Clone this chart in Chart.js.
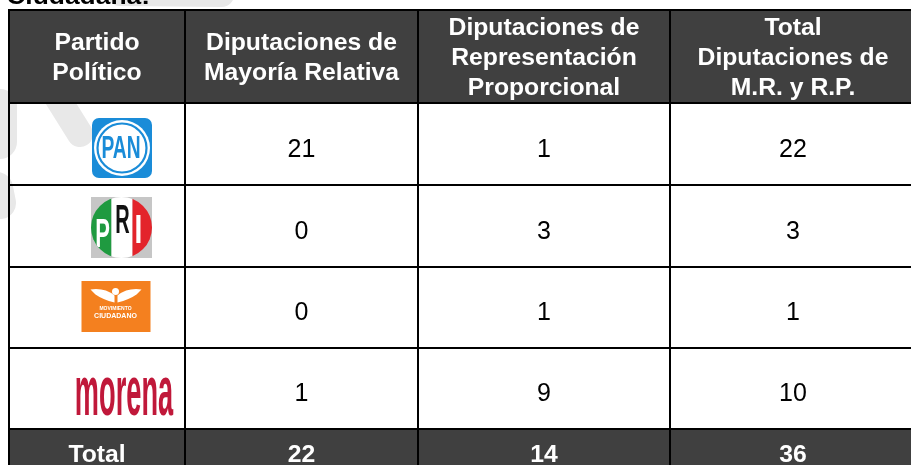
<!DOCTYPE html>
<html>
<head>
<meta charset="utf-8">
<script src="https://cdn.jsdelivr.net/npm/chart.js@4.4.0/dist/chart.umd.min.js"></script>
<style>
  html, body { margin: 0; padding: 0; background: #fff; }
  #wrap { width: 911px; height: 465px; }
</style>
</head>
<body>
<div id="wrap"><canvas id="tabla" width="911" height="465"></canvas></div>
<script>
// header text, one entry per column (lines)
const headers = [
  ['Partido', 'Político'],
  ['Diputaciones de', 'Mayoría Relativa'],
  ['Diputaciones de', 'Representación', 'Proporcional'],
  ['Total', 'Diputaciones de', 'M.R. y R.P.']
];
const parties = ['PAN', 'PRI', 'MC', 'morena'];
const mayoriaRelativa = [21, 0, 0, 1];
const representacionProporcional = [1, 3, 1, 9];
const totalDiputaciones = [22, 3, 1, 10];
const totalLabel = 'Total';
const columnTotals = [22, 14, 36];

// table grid (page pixels)
const colEdges = [9, 185, 418, 670, 916];
const rowEdges = [10, 103, 185, 267, 348, 429, 477];
const HEAD_BG = '#404040';
const FONT = '"Liberation Sans", Arial, sans-serif';

function cx(j) { return (colEdges[j] + colEdges[j + 1]) / 2; }
function cy(i) { return (rowEdges[i] + rowEdges[i + 1]) / 2; }

function stretchText(ctx, str, x, y, font, color, sx, align) {
  ctx.save();
  ctx.font = font;
  ctx.fillStyle = color;
  ctx.textAlign = align || 'center';
  ctx.textBaseline = 'alphabetic';
  ctx.translate(x, y);
  ctx.scale(sx, 1);
  ctx.fillText(str, 0, 0);
  ctx.restore();
}

// party logos, drawn around a centre point
function drawLogo(ctx, name, x, y) {
  ctx.save();
  if (name === 'PAN') {
    ctx.fillStyle = '#1a8cd8';
    ctx.beginPath();
    ctx.roundRect(x - 30, y - 30, 60, 60, 7);
    ctx.fill();
    ctx.fillStyle = '#fff';
    ctx.beginPath(); ctx.arc(x, y, 28, 0, Math.PI * 2); ctx.fill();
    ctx.strokeStyle = '#1a8cd8'; ctx.lineWidth = 2.2;
    ctx.beginPath(); ctx.arc(x, y, 24.5, 0, Math.PI * 2); ctx.stroke();
    ctx.translate(x - 1, y + 10);
    ctx.scale(0.6, 1);
    ctx.font = 'bold 32px ' + FONT;
    ctx.fillStyle = '#1a8cd8';
    ctx.textAlign = 'center';
    ctx.fillText('PAN', 0, 0);
  } else if (name === 'PRI') {
    ctx.fillStyle = '#c6c6c6';
    ctx.fillRect(x - 30.5, y - 30.5, 61, 61);
    ctx.beginPath(); ctx.arc(x, y, 30.5, 0, Math.PI * 2); ctx.clip();
    ctx.fillStyle = '#1f9a40'; ctx.fillRect(x - 31, y - 31, 21, 62);
    ctx.fillStyle = '#ffffff'; ctx.fillRect(x - 10, y - 31, 21, 62);
    ctx.fillStyle = '#e3242b'; ctx.fillRect(x + 11, y - 31, 21, 62);
    ctx.font = 'bold 40px ' + FONT;
    ctx.textAlign = 'center';
    const letter = (ch, lx, ly, col, sx) => {
      ctx.save(); ctx.translate(lx, ly); ctx.scale(sx, 1);
      ctx.fillStyle = col; ctx.fillText(ch, 0, 0); ctx.restore();
    };
    letter('P', x - 19, y + 19, '#fff', 0.55);
    letter('R', x + 1, y + 5, '#111', 0.5);
    letter('I', x + 17, y + 15, '#fff', 0.7);
  } else if (name === 'MC') {
    ctx.fillStyle = '#f4801f';
    ctx.fillRect(x - 35, y - 25.5, 69, 51);
    ctx.fillStyle = '#fff';
    // wings
    ctx.beginPath();
    ctx.moveTo(x - 26, y - 17);
    ctx.quadraticCurveTo(x - 12, y - 19, x - 2, y - 11);
    ctx.lineTo(x - 2, y - 4);
    ctx.quadraticCurveTo(x - 14, y - 7, x - 21, y - 12);
    ctx.closePath();
    ctx.moveTo(x + 25, y - 17);
    ctx.quadraticCurveTo(x + 11, y - 19, x + 1, y - 11);
    ctx.lineTo(x + 1, y - 4);
    ctx.quadraticCurveTo(x + 13, y - 7, x + 20, y - 12);
    ctx.closePath();
    ctx.fill();
    ctx.beginPath(); ctx.arc(x - 1, y - 15, 3.5, 0, Math.PI * 2); ctx.fill();
    ctx.textAlign = 'center';
    ctx.font = 'bold 5px ' + FONT;
    ctx.fillText('MOVIMIENTO', x - 1, y + 3);
    ctx.font = 'bold 7px ' + FONT;
    ctx.fillText('CIUDADANO', x - 1, y + 11);
  } else if (name === 'morena') {
    ctx.translate(x, y + 18);
    ctx.scale(0.68, 1.78);
    ctx.font = 'bold 40px ' + FONT;
    ctx.fillStyle = '#c0183a';
    ctx.textAlign = 'center';
    ctx.fillText('morena', 0, 0);
  }
  ctx.restore();
}

const logoPos = [[122, 148], [121.5, 227.5], [116.5, 306.5], [124, 397]];

const tablePlugin = {
  id: 'tablePlugin',
  beforeDatasetsDraw(chart) {
    const ctx = chart.ctx;
    const xs = chart.scales.x, ys = chart.scales.y;
    const X = v => xs.getPixelForValue(v), Y = v => ys.getPixelForValue(v);
    ctx.save();
    // faint watermark strokes behind the table
    ctx.strokeStyle = '#e8e8e8';
    ctx.lineCap = 'round';
    [[[40, 70], [80, 134], 26], [[0, 106], [0, 142], 34], [[-3, 188], [0, 203], 32], [[120, -6], [222, -5], 24]]
      .forEach(([a, b, w]) => {
        ctx.lineWidth = w;
        ctx.beginPath(); ctx.moveTo(X(a[0]), Y(a[1])); ctx.lineTo(X(b[0]), Y(b[1])); ctx.stroke();
      });
    // cut-off title text above the table
    stretchText(ctx, 'Ciudadana:', X(150), Y(4), 'bold 24px ' + FONT, '#000', 1.1, 'right');

    // header and total row backgrounds
    const last = colEdges.length - 1;
    ctx.fillStyle = HEAD_BG;
    ctx.fillRect(X(colEdges[0]), Y(rowEdges[0]), X(colEdges[last]) - X(colEdges[0]), Y(rowEdges[1]) - Y(rowEdges[0]));
    const tr = rowEdges.length - 2;
    ctx.fillRect(X(colEdges[0]), Y(rowEdges[tr]), X(colEdges[last]) - X(colEdges[0]), Y(rowEdges[tr + 1]) - Y(rowEdges[tr]));

    // logos
    parties.forEach((p, i) => drawLogo(ctx, p, X(logoPos[i][0]), Y(logoPos[i][1])));

    // grid lines
    ctx.strokeStyle = '#000';
    ctx.lineWidth = 2;
    ctx.lineCap = 'butt';
    colEdges.forEach(c => {
      ctx.beginPath(); ctx.moveTo(X(c), Y(rowEdges[0]) - 1); ctx.lineTo(X(c), Y(rowEdges[rowEdges.length - 1])); ctx.stroke();
    });
    rowEdges.forEach(r => {
      ctx.beginPath(); ctx.moveTo(X(colEdges[0]) - 1, Y(r)); ctx.lineTo(X(colEdges[last]), Y(r)); ctx.stroke();
    });

    // header text
    headers.forEach((lines, j) => {
      const mid = cy(0);
      lines.forEach((t, k) => {
        const yc = mid + (k - (lines.length - 1) / 2) * 30;
        stretchText(ctx, t, X(cx(j)), Y(yc + 8.6), 'bold 24px ' + FONT, '#fff', 1.03);
      });
    });
    ctx.restore();
  },
  afterDatasetsDraw(chart) {
    const ctx = chart.ctx;
    chart.data.datasets.forEach((ds, d) => {
      const meta = chart.getDatasetMeta(d);
      meta.data.forEach((pt, i) => {
        const raw = ds.data[i];
        if (ds.isTotal) {
          stretchText(ctx, String(raw.v), pt.x, pt.y + 8.6, 'bold 24px ' + FONT, '#fff', 1.03);
        } else {
          stretchText(ctx, String(raw.v), pt.x, pt.y + 12.5, '25px ' + FONT, '#000', 1.0);
        }
      });
    });
  }
};

const valueColumns = [mayoriaRelativa, representacionProporcional, totalDiputaciones];
const datasets = valueColumns.map((vals, j) => ({
  label: headers[j + 1].join(' '),
  data: vals.map((v, i) => ({ x: cx(j + 1), y: cy(i + 1), v: v })),
  pointRadius: 0
}));
datasets.push({
  label: totalLabel,
  isTotal: true,
  data: [totalLabel].concat(columnTotals).map((v, j) => ({ x: cx(j), y: 453, v: v })),
  pointRadius: 0
});

new Chart(document.getElementById('tabla'), {
  type: 'scatter',
  data: { datasets: datasets },
  options: {
    responsive: false,
    animation: false,
    layout: { padding: 0 },
    plugins: { legend: { display: false }, tooltip: { enabled: false } },
    scales: {
      x: { type: 'linear', min: 0, max: 911, display: false },
      y: { type: 'linear', min: 0, max: 465, reverse: true, display: false }
    }
  },
  plugins: [tablePlugin]
});
</script>
</body>
</html>
